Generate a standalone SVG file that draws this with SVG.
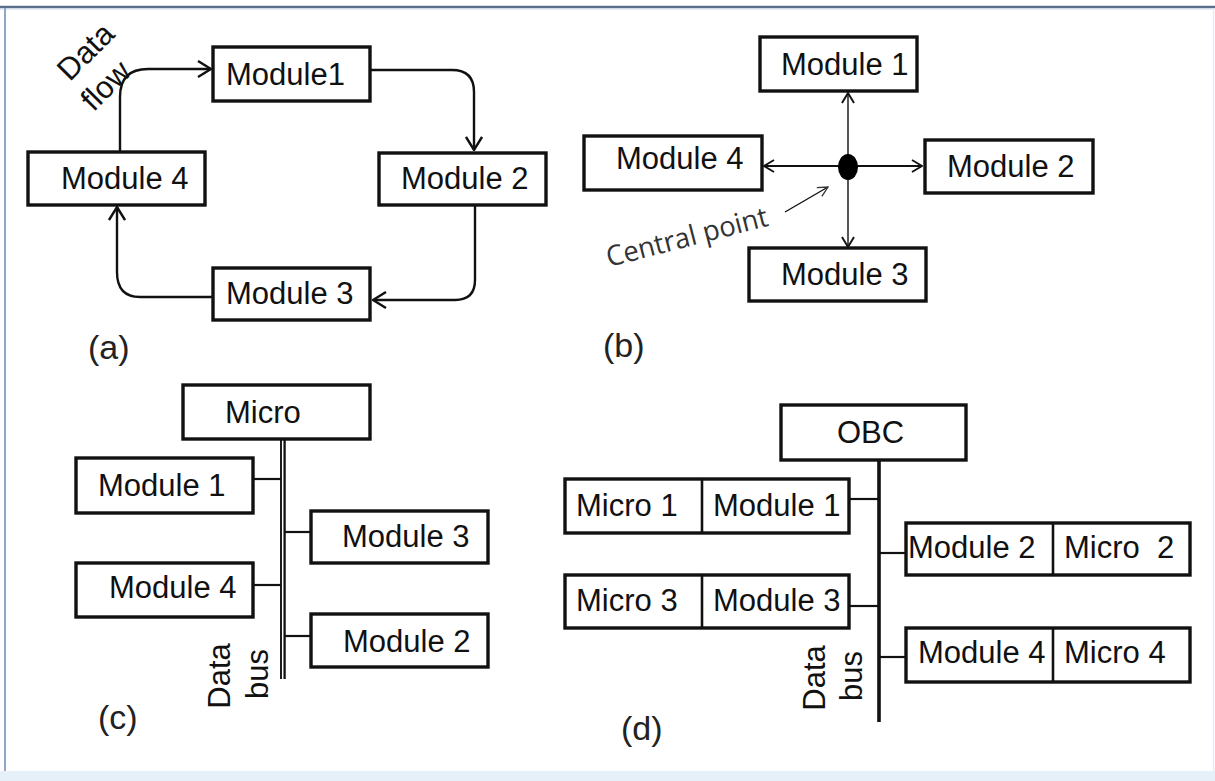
<svg xmlns="http://www.w3.org/2000/svg" width="1215" height="781" viewBox="0 0 1215 781">
  <style>
    .box { fill: #fff; stroke: #111; stroke-width: 3.4; }
    .div { stroke: #111; stroke-width: 2.6; }
    .t { font-family: "Liberation Sans", Arial, sans-serif; font-size: 31px; fill: #111; }
    .lbl { font-family: "Liberation Sans", Arial, sans-serif; font-size: 34px; fill: #222; }
    .note { font-family: "Open Sans", "Noto Sans", sans-serif; font-size: 28px; fill: #333; }
    .flow { fill: none; stroke: #111; stroke-width: 2.4; }
    .thin { fill: none; stroke: #111; stroke-width: 1.4; }
    .mid { fill: none; stroke: #111; stroke-width: 2.2; }
    .tap { stroke: #111; stroke-width: 2.2; }
  </style>
  <defs>
    <marker id="arrA" viewBox="0 0 15 18" refX="14" refY="9" markerWidth="15" markerHeight="18" markerUnits="userSpaceOnUse" orient="auto-start-reverse">
      <path d="M1,1 L14,9 L1,17" fill="none" stroke="#111" stroke-width="2.4"/>
    </marker>
    <marker id="arrB" viewBox="0 0 12 14" refX="11" refY="7" markerWidth="12" markerHeight="14" markerUnits="userSpaceOnUse" orient="auto-start-reverse">
      <path d="M1,1 L11,7 L1,13" fill="none" stroke="#111" stroke-width="1.9"/>
    </marker>
    <marker id="arrC" viewBox="0 0 12 12" refX="11" refY="6" markerWidth="12" markerHeight="12" markerUnits="userSpaceOnUse" orient="auto">
      <path d="M1,1 L11,6 L1,11" fill="none" stroke="#333" stroke-width="1.3"/>
    </marker>
  </defs>

  <!-- page frame -->
  <rect x="0" y="0" width="1215" height="781" fill="#fff"/>
  <rect x="0" y="771" width="1215" height="10" fill="#e6f0f9"/>
  <line x1="0" y1="7" x2="1215" y2="7" stroke="#5b6f8c" stroke-width="2.5"/>
  <line x1="0" y1="9" x2="1215" y2="9" stroke="#c9d8ea" stroke-width="1"/>
  <line x1="5" y1="8" x2="5" y2="771" stroke="#8fa8c8" stroke-width="2"/>
  <line x1="1213.5" y1="8" x2="1213.5" y2="771" stroke="#e3ecf6" stroke-width="1.5"/>

  <!-- (a) ring topology -->
  <g id="connectors-a">
    <path class="flow" d="M120,151 V97 Q120,69 148,69 H211" marker-end="url(#arrA)"/>
    <path class="flow" d="M371,70 H452 Q474,70 474,92 V150" marker-end="url(#arrA)"/>
    <path class="flow" d="M475,205 V280 Q475,300 455,300 H373" marker-end="url(#arrA)"/>
    <path class="flow" d="M213,297 H140 Q117,297 117,272 V207" marker-end="url(#arrA)"/>
  </g>
  <g id="a-module1"><rect class="box" x="213" y="47" width="157" height="54"/><text class="t" x="226" y="85">Module1</text></g>
  <g id="a-module2"><rect class="box" x="379" y="153" width="167" height="52"/><text class="t" x="401" y="189">Module 2</text></g>
  <g id="a-module3"><rect class="box" x="213" y="268" width="157" height="52"/><text class="t" x="226" y="304">Module 3</text></g>
  <g id="a-module4"><rect class="box" x="28" y="152" width="177" height="53"/><text class="t" x="61" y="189">Module 4</text></g>
  <g id="a-dataflow">
    <text class="t" text-anchor="middle" transform="translate(93,59) rotate(-45)">Data</text>
    <text class="t" text-anchor="middle" transform="translate(113,93) rotate(-45)">flow</text>
  </g>
  <text class="lbl" x="88" y="359">(a)</text>

  <!-- (b) star topology -->
  <g id="connectors-b">
    <line class="thin" x1="848" y1="93" x2="848" y2="247" marker-start="url(#arrB)" marker-end="url(#arrB)"/>
    <line class="mid" x1="764" y1="166" x2="922" y2="166" marker-start="url(#arrB)" marker-end="url(#arrB)"/>
    <line class="thin" x1="785" y1="212" x2="828" y2="187" marker-end="url(#arrC)"/>
  </g>
  <g id="b-center"><ellipse cx="848" cy="167" rx="10" ry="13" fill="#000"/></g>
  <g id="b-module1"><rect class="box" x="760" y="37" width="157" height="54"/><text class="t" x="781" y="75">Module 1</text></g>
  <g id="b-module2"><rect class="box" x="925" y="140" width="168" height="53"/><text class="t" x="947" y="177">Module 2</text></g>
  <g id="b-module3"><rect class="box" x="749" y="248" width="177" height="53"/><text class="t" x="781" y="285">Module 3</text></g>
  <g id="b-module4"><rect class="box" x="584" y="136" width="178" height="54"/><text class="t" x="616" y="169">Module 4</text></g>
  <text class="note" transform="translate(609,267) rotate(-14.5)" textLength="166" lengthAdjust="spacingAndGlyphs">Central point</text>
  <text class="lbl" x="603" y="357">(b)</text>

  <!-- (c) bus with one micro -->
  <g id="connectors-c">
    <line x1="281" y1="439" x2="281" y2="679" stroke="#111" stroke-width="1.9"/>
    <line x1="284.6" y1="439" x2="284.6" y2="679" stroke="#111" stroke-width="2.3"/>
    <line class="tap" x1="253" y1="479" x2="281" y2="479"/>
    <line class="tap" x1="253" y1="585" x2="281" y2="585"/>
    <line class="tap" x1="285" y1="532" x2="311" y2="532"/>
    <line class="tap" x1="285" y1="636" x2="311" y2="636"/>
  </g>
  <g id="c-micro"><rect class="box" x="183" y="385" width="187" height="54"/><text class="t" x="225" y="423">Micro</text></g>
  <g id="c-module1"><rect class="box" x="76" y="458" width="177" height="55"/><text class="t" x="98" y="496">Module 1</text></g>
  <g id="c-module4"><rect class="box" x="76" y="563" width="177" height="54"/><text class="t" x="109" y="598">Module 4</text></g>
  <g id="c-module3"><rect class="box" x="311" y="511" width="177" height="52"/><text class="t" x="342" y="547">Module 3</text></g>
  <g id="c-module2"><rect class="box" x="311" y="614" width="177" height="53"/><text class="t" x="343" y="652">Module 2</text></g>
  <g id="c-busname">
    <text class="t" text-anchor="middle" transform="translate(230,676) rotate(-90)">Data</text>
    <text class="t" text-anchor="middle" transform="translate(268,674) rotate(-90)">bus</text>
  </g>
  <text class="lbl" x="98" y="729">(c)</text>

  <!-- (d) bus with OBC and per-module micros -->
  <g id="connectors-d">
    <line x1="879" y1="460" x2="879" y2="722" stroke="#111" stroke-width="3.6"/>
    <line class="tap" x1="849" y1="499" x2="879" y2="499"/>
    <line class="tap" x1="879" y1="553" x2="906" y2="553"/>
    <line class="tap" x1="849" y1="606" x2="879" y2="606"/>
    <line class="tap" x1="879" y1="657" x2="906" y2="657"/>
  </g>
  <g id="d-obc"><rect class="box" x="781" y="405" width="185" height="55"/><text class="t" x="837" y="443">OBC</text></g>
  <g id="d-row1">
    <rect class="box" x="565" y="479" width="284" height="54"/>
    <line class="div" x1="702" y1="479" x2="702" y2="533"/>
    <text class="t" x="576" y="516">Micro 1</text>
    <text class="t" x="713" y="516">Module 1</text>
  </g>
  <g id="d-row2">
    <rect class="box" x="906" y="523" width="284" height="52"/>
    <line class="div" x1="1053" y1="523" x2="1053" y2="575"/>
    <text class="t" x="908" y="558">Module 2</text>
    <text class="t" x="1064" y="558" xml:space="preserve">Micro  2</text>
  </g>
  <g id="d-row3">
    <rect class="box" x="565" y="575" width="284" height="53"/>
    <line class="div" x1="702" y1="575" x2="702" y2="628"/>
    <text class="t" x="576" y="611">Micro 3</text>
    <text class="t" x="713" y="611">Module 3</text>
  </g>
  <g id="d-row4">
    <rect class="box" x="906" y="628" width="284" height="54"/>
    <line class="div" x1="1053" y1="628" x2="1053" y2="682"/>
    <text class="t" x="918" y="663">Module 4</text>
    <text class="t" x="1064" y="663">Micro 4</text>
  </g>
  <g id="d-busname">
    <text class="t" text-anchor="middle" transform="translate(825,678) rotate(-90)">Data</text>
    <text class="t" text-anchor="middle" transform="translate(862,676) rotate(-90)">bus</text>
  </g>
  <text class="lbl" x="621" y="740">(d)</text>
</svg>
